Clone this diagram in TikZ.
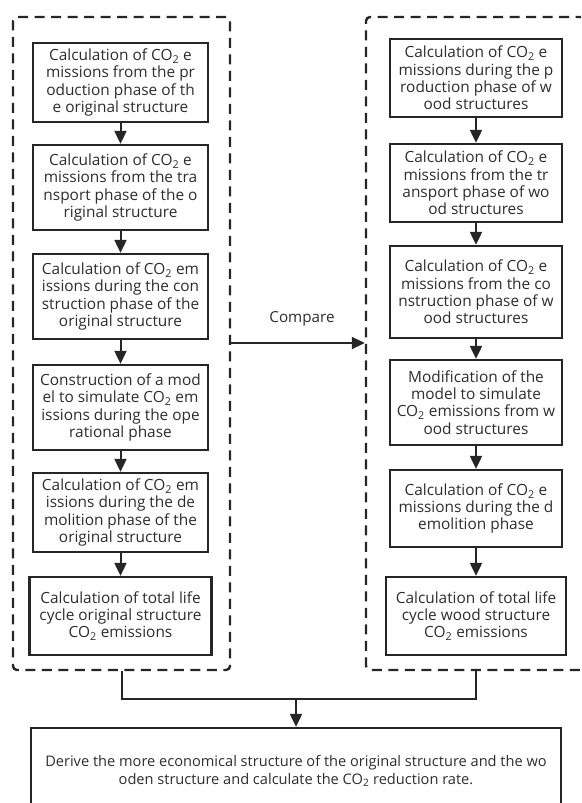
\documentclass[tikz,border=0pt]{standalone}
\usepackage{fontspec}
\setmainfont{Open Sans}
\usetikzlibrary{arrows.meta,calc}
\definecolor{linec}{RGB}{38,38,38}
\definecolor{txt}{RGB}{45,45,45}
\newcommand{\cotwo}{CO\textsubscript{2}}
\begin{document}
\begin{tikzpicture}[x=1pt,y=-1pt,
  box/.style={draw=linec, line width=2.3pt, align=center, text=txt, inner sep=0pt,
    font=\fontsize{15.4}{17.3}\selectfont},
  dashbox/.style={draw=linec, line width=2.4pt, dash pattern=on 10pt off 6.5pt, rounded corners=4pt,
    inner sep=0pt},
  arr/.style={draw=linec, line width=2pt, -{Triangle[length=13pt,width=12pt]}},
  conn/.style={draw=linec, line width=2pt},
  lbl/.style={text=txt, font=\fontsize{15.2}{17.3}\selectfont}]
\useasboundingbox (0,0) rectangle (581,803);
\clip (0,0) rectangle (581,803);

% group frames
\node[dashbox, minimum width=217pt, minimum height=653pt] (LG) at (121.5,343.5) {};
\node[dashbox, minimum width=240pt, minimum height=653pt] (RG) at (486,343.5) {};

% left column
\node[box, minimum width=175pt, minimum height=79pt] (L1) at (120.5,82.5)
  {Calculation of \cotwo{} e\\missions from the pr\\oduction phase of th\\e original structure};
\node[box, minimum width=175pt, minimum height=85pt] (L2) at (120.5,187.5)
  {Calculation of \cotwo{} e\\missions from the tra\\nsport phase of the o\\riginal structure};
\node[box, minimum width=175pt, minimum height=85pt] (L3) at (120.5,296.5)
  {Calculation of \cotwo{} em\\issions during the con\\struction phase of the\\original structure};
\node[box, minimum width=175pt, minimum height=85pt] (L4) at (120.5,407.5)
  {Construction of a mod\\el to simulate \cotwo{} em\\issions during the ope\\rational phase};
\node[box, minimum width=175pt, minimum height=79pt] (L5) at (120.5,512.5)
  {Calculation of \cotwo{} em\\issions during the de\\molition phase of the\\original structure};
\node[box, minimum width=182pt, minimum height=78pt] (L6) at (120.5,616)
  {Calculation of total life\\cycle original structure\\\cotwo{} emissions};

% right column
\node[box, minimum width=172pt, minimum height=78pt] (R1) at (476,78)
  {Calculation of \cotwo{} e\\missions during the p\\roduction phase of w\\ood structures};
\node[box, minimum width=172pt, minimum height=78pt] (R2) at (476,183)
  {Calculation of \cotwo{} e\\missions from the tr\\ansport phase of wo\\od structures};
\node[box, minimum width=172pt, minimum height=92pt] (R3) at (476,292)
  {Calculation of \cotwo{} e\\missions from the co\\nstruction phase of w\\ood structures};
\node[box, minimum width=172pt, minimum height=85pt] (R4) at (476,402.5)
  {Modification of the\\model to simulate\\\cotwo{} emissions from w\\ood structures};
\node[box, minimum width=172pt, minimum height=77pt] (R5) at (476,508.5)
  {Calculation of \cotwo{} e\\missions during the d\\emolition phase};
\node[box, minimum width=180pt, minimum height=78pt] (R6) at (476,616)
  {Calculation of total life\\cycle wood structure\\\cotwo{} emissions};

% final box
\node[box, minimum width=530pt, minimum height=86pt, font=\fontsize{14.6}{17.3}\selectfont] (F) at (296,771)
  {Derive the more economical structure of the original structure and the wo\\oden structure and calculate the \cotwo{} reduction rate.};

% vertical arrows
\foreach \a/\b in {L1/L2,L2/L3,L3/L4,L4/L5,L5/L6,R1/R2,R2/R3,R3/R4,R4/R5,R5/R6}
  \draw[arr] (\a.south) -- (\b.north);

% compare arrow
\coordinate (cmp) at (0,343);
\draw[arr] (LG.east |- cmp) -- (RG.west |- cmp);
\node[lbl] (cmpl) at (302,319) {Compare};

% join to final box
\coordinate (jn) at (0,699);
\draw[conn] (LG.south) -- (LG.south |- jn) -- (jn -| R1) -- (RG.south -| R1);
\draw[arr] (F.north |- jn) -- (F.north);
\end{tikzpicture}
\end{document}
